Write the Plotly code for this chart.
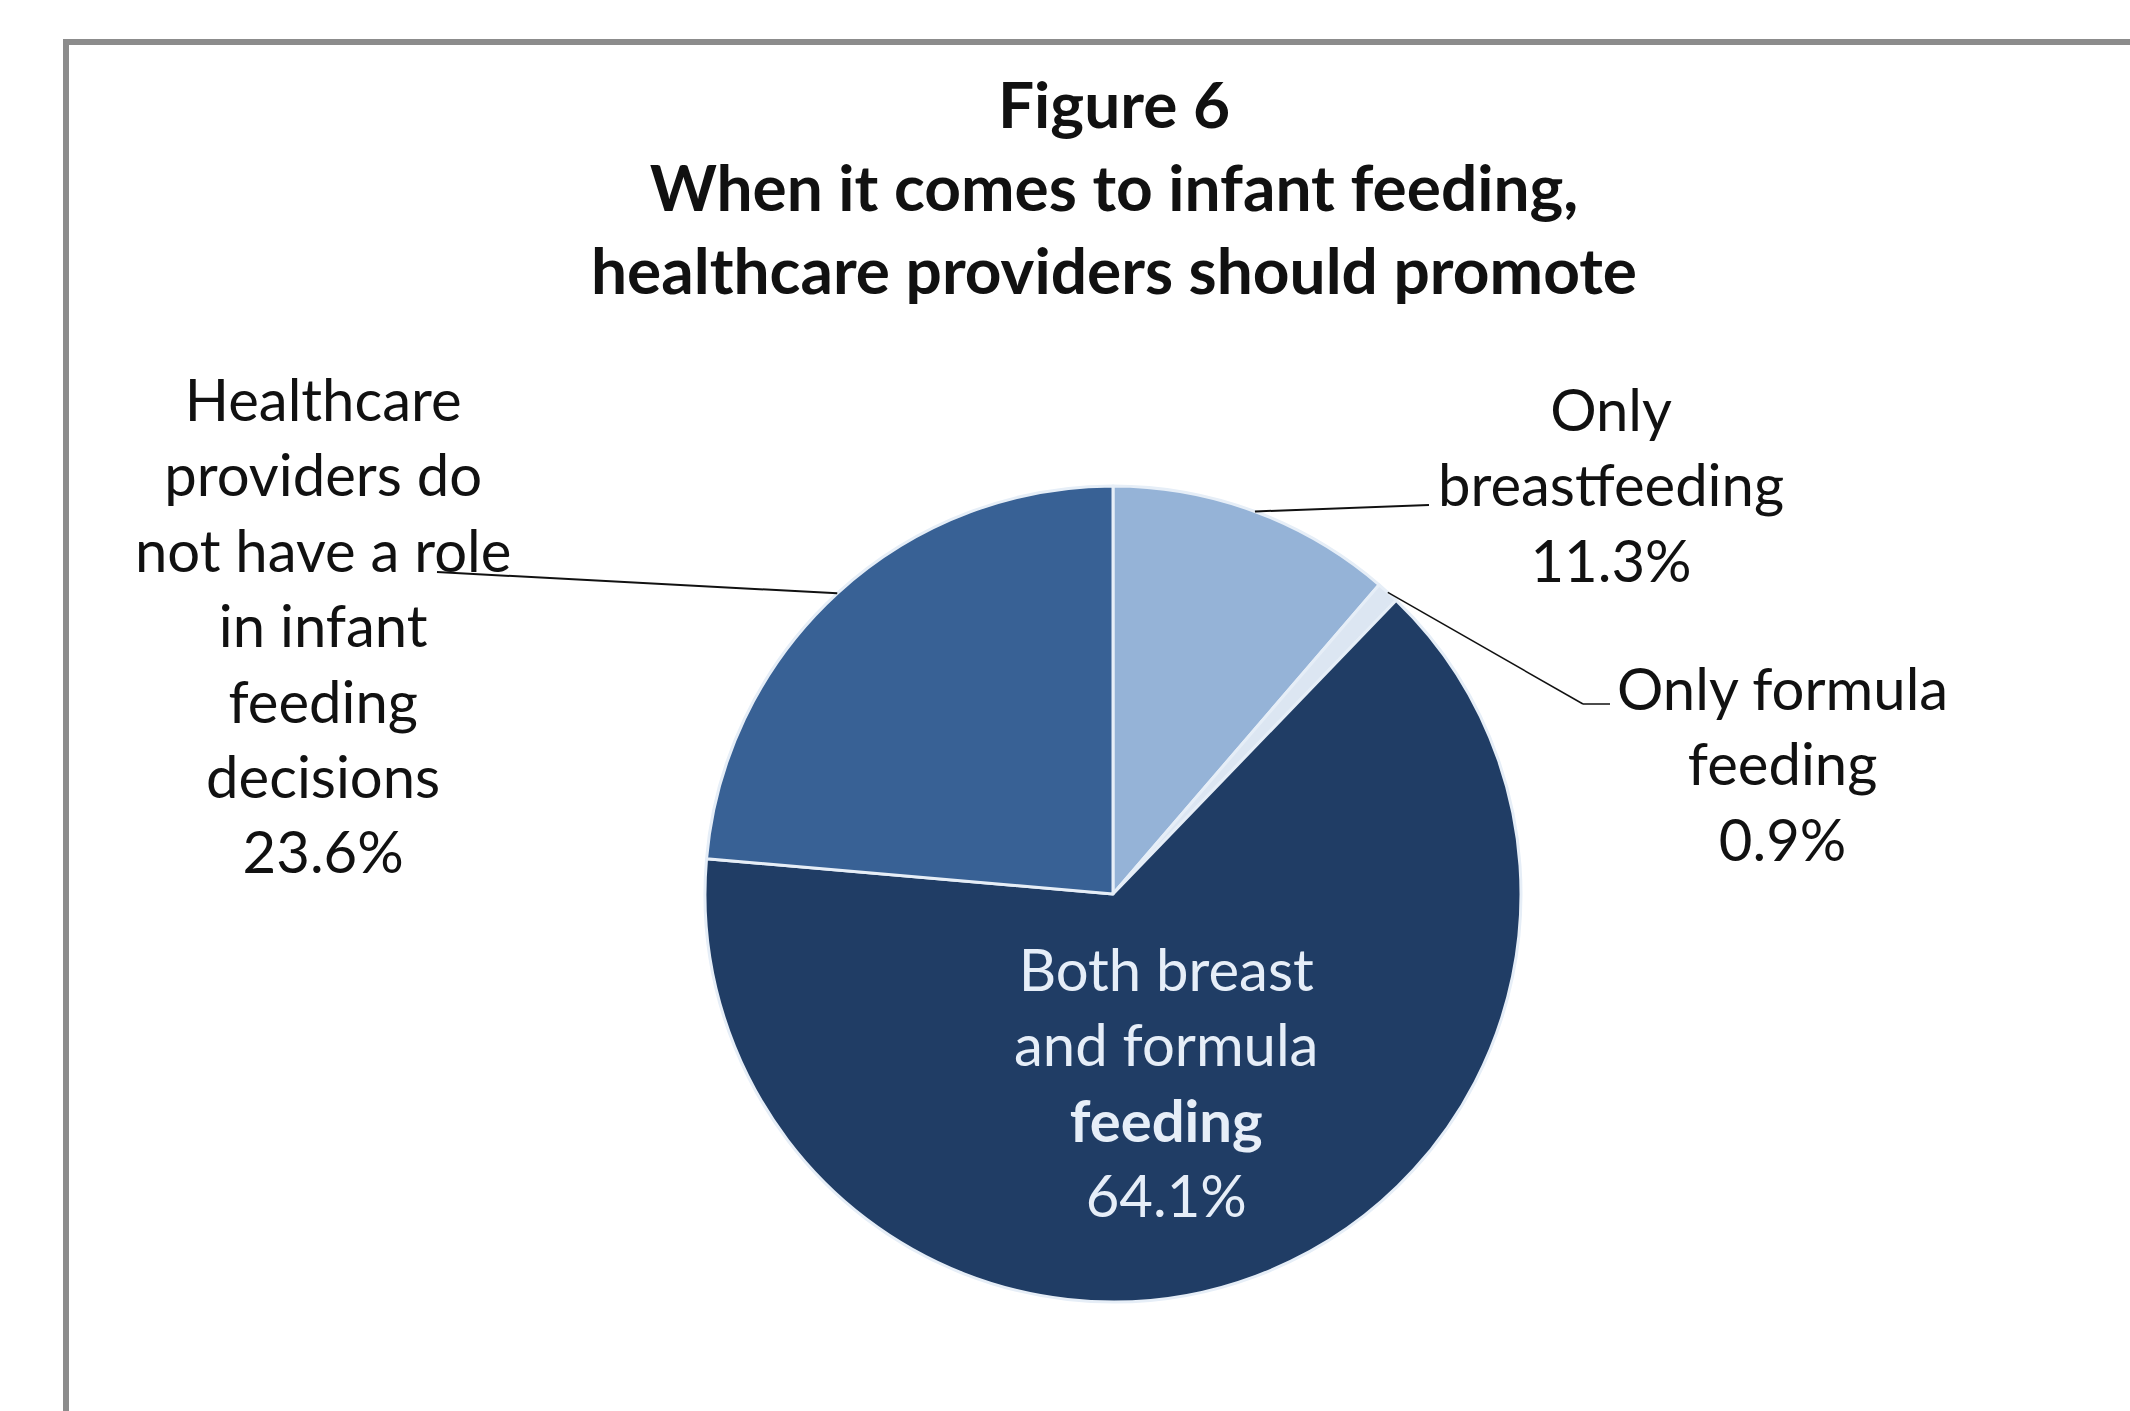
import math
import plotly.graph_objects as go

# Survey responses: what healthcare providers should promote for infant feeding
categories = [
    "Only breastfeeding",
    "Only formula feeding",
    "Both breast and formula feeding",
    "Healthcare providers do not have a role in infant feeding decisions",
]
shares = [11.3, 0.9, 64.1, 23.6]
slice_colors = ["#95B3D7", "#DCE6F2", "#203D65", "#386195"]

W, H = 2130, 1411
FONT = "Lato"

# pie placement (pixels)
CX, CY, R = 1113, 894, 408


def px(x):
    return x / W


def py(y):
    return 1 - y / H


fig = go.Figure()
fig.add_trace(
    go.Pie(
        labels=categories,
        values=shares,
        sort=False,
        direction="clockwise",
        rotation=0,
        marker=dict(colors=slice_colors, line=dict(color="#E6EEF7", width=3)),
        textinfo="none",
        hoverinfo="label+percent",
        showlegend=False,
        domain=dict(x=[px(CX - R), px(CX + R)], y=[py(CY + R), py(CY - R)]),
    )
)

# mid-angle of each slice on the rim, used to anchor the leader lines
total = sum(shares)
rim = []
cum = 0.0
for v in shares:
    theta = math.radians(360 * (cum + v / 2) / total)
    rim.append((CX + R * math.sin(theta), CY - R * math.cos(theta)))
    cum += v

shapes = []


def seg(p0, p1, width=2, color="#111111"):
    shapes.append(
        dict(
            type="line",
            xref="paper",
            yref="paper",
            x0=px(p0[0]),
            y0=py(p0[1]),
            x1=px(p1[0]),
            y1=py(p1[1]),
            line=dict(color=color, width=width),
        )
    )


# leader lines
seg(rim[0], (1429, 505), 2)
seg(rim[1], (1583, 704), 1.5)
seg((1583, 704), (1610, 704), 1.5)
seg(rim[3], (437, 572), 2)

# outer frame (top and left edges)
shapes.append(
    dict(
        type="path",
        xref="paper",
        yref="paper",
        path=f"M {px(66)} {py(H + 5)} L {px(66)} {py(42)} L {px(W + 5)} {py(42)}",
        line=dict(color="#8C8C8C", width=6),
    )
)

annotations = []


def label(text, x, y, size, color="#111111"):
    annotations.append(
        dict(
            text=text,
            x=px(x),
            y=py(y),
            xref="paper",
            yref="paper",
            xanchor="center",
            yanchor="middle",
            align="center",
            showarrow=False,
            font=dict(family=FONT, size=size, color=color),
        )
    )


label(
    "<b>Figure 6<br>When it comes to infant feeding,<br>healthcare providers should promote</b>",
    1114, 187, 64,
)
label(f"Only<br>breastfeeding<br>{shares[0]:.1f}%", 1611, 484, 58)
label(f"Only formula<br>feeding<br>{shares[1]:.1f}%", 1782, 763, 58)
label(
    f"Both breast<br>and formula<br><b>feeding</b><br>{shares[2]:.1f}%",
    1166, 1081, 58, color="#E6EEF8",
)
label(
    "Healthcare<br>providers do<br>not have a role<br>in infant<br>feeding<br>decisions<br>"
    f"{shares[3]:.1f}%",
    323, 624, 58,
)

fig.update_layout(
    width=W,
    height=H,
    margin=dict(l=0, r=0, t=0, b=0),
    paper_bgcolor="white",
    plot_bgcolor="white",
    shapes=shapes,
    annotations=annotations,
)

fig.write_html("out.html")
